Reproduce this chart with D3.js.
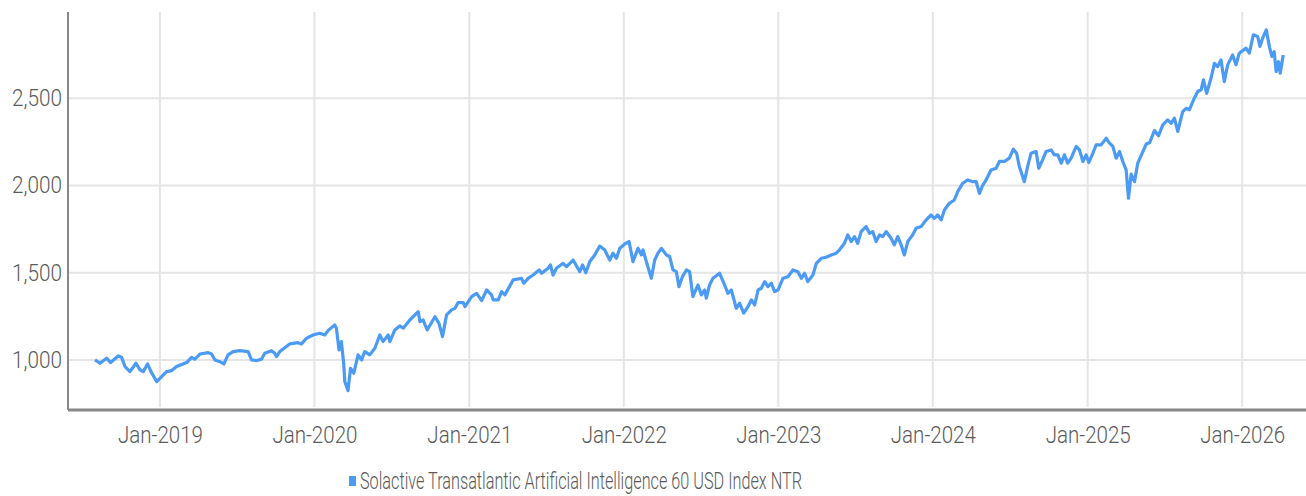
<!DOCTYPE html>
<html>
<head>
<meta charset="utf-8">
<script src="https://cdn.jsdelivr.net/npm/d3@7"></script>
<style>
  body { margin: 0; background: #fff; }
  svg text { font-family: "Roboto", "Liberation Sans", sans-serif; font-weight: 300; fill: #5a5a5a; }
</style>
</head>
<body>
<svg id="chart" width="1306" height="496"></svg>
<script>
// series name
const seriesName = "Solactive Transatlantic Artificial Intelligence 60 USD Index NTR";

// dates as fractional years
const dates = [
  2018.580, 2018.612, 2018.655, 2018.681, 2018.730, 2018.752, 2018.774, 2018.806, 2018.845, 2018.871,
  2018.892, 2018.920, 2018.942, 2018.979, 2019.000, 2019.043, 2019.076, 2019.108, 2019.173, 2019.205,
  2019.226, 2019.259, 2019.312, 2019.334, 2019.356, 2019.388, 2019.414, 2019.441, 2019.474, 2019.517,
  2019.571, 2019.593, 2019.625, 2019.657, 2019.679, 2019.722, 2019.743, 2019.754, 2019.776, 2019.840,
  2019.894, 2019.916, 2019.948, 2019.991, 2020.034, 2020.067, 2020.088, 2020.131, 2020.142, 2020.159,
  2020.174, 2020.189, 2020.196, 2020.217, 2020.233, 2020.254, 2020.282, 2020.304, 2020.325, 2020.357,
  2020.390, 2020.422, 2020.443, 2020.476, 2020.487, 2020.519, 2020.551, 2020.573, 2020.616, 2020.670,
  2020.681, 2020.702, 2020.728, 2020.778, 2020.804, 2020.827, 2020.853, 2020.886, 2020.907, 2020.928,
  2020.961, 2020.972, 2021.015, 2021.047, 2021.080, 2021.112, 2021.144, 2021.155, 2021.187, 2021.209,
  2021.230, 2021.284, 2021.338, 2021.353, 2021.381, 2021.413, 2021.452, 2021.468, 2021.510, 2021.525,
  2021.542, 2021.564, 2021.607, 2021.629, 2021.672, 2021.715, 2021.733, 2021.754, 2021.780, 2021.812,
  2021.844, 2021.877, 2021.898, 2021.909, 2021.930, 2021.952, 2021.974, 2022.006, 2022.034, 2022.059,
  2022.092, 2022.114, 2022.124, 2022.146, 2022.178, 2022.200, 2022.221, 2022.243, 2022.276, 2022.297,
  2022.318, 2022.340, 2022.357, 2022.379, 2022.405, 2022.426, 2022.447, 2022.480, 2022.502, 2022.523,
  2022.534, 2022.555, 2022.577, 2022.620, 2022.652, 2022.674, 2022.696, 2022.728, 2022.750, 2022.776,
  2022.804, 2022.826, 2022.847, 2022.869, 2022.890, 2022.912, 2022.933, 2022.955, 2022.976, 2022.998,
  2023.030, 2023.062, 2023.095, 2023.127, 2023.149, 2023.170, 2023.191, 2023.224, 2023.246, 2023.278,
  2023.310, 2023.342, 2023.375, 2023.396, 2023.428, 2023.450, 2023.472, 2023.493, 2023.514, 2023.536,
  2023.568, 2023.590, 2023.611, 2023.633, 2023.655, 2023.676, 2023.698, 2023.730, 2023.751, 2023.773,
  2023.795, 2023.816, 2023.838, 2023.870, 2023.892, 2023.925, 2023.957, 2023.989, 2024.010, 2024.032,
  2024.054, 2024.075, 2024.107, 2024.139, 2024.161, 2024.193, 2024.226, 2024.258, 2024.280, 2024.301,
  2024.323, 2024.344, 2024.376, 2024.409, 2024.430, 2024.462, 2024.494, 2024.520, 2024.541, 2024.559,
  2024.591, 2024.612, 2024.634, 2024.667, 2024.684, 2024.709, 2024.731, 2024.764, 2024.785, 2024.807,
  2024.829, 2024.850, 2024.871, 2024.893, 2024.926, 2024.947, 2024.969, 2024.990, 2025.007, 2025.033,
  2025.055, 2025.087, 2025.120, 2025.141, 2025.163, 2025.184, 2025.206, 2025.227, 2025.249, 2025.264,
  2025.281, 2025.303, 2025.324, 2025.357, 2025.379, 2025.400, 2025.432, 2025.458, 2025.486, 2025.518,
  2025.540, 2025.561, 2025.583, 2025.615, 2025.637, 2025.658, 2025.690, 2025.712, 2025.734, 2025.749,
  2025.770, 2025.798, 2025.820, 2025.841, 2025.863, 2025.884, 2025.906, 2025.938, 2025.960, 2025.981,
  2026.025, 2026.046, 2026.072, 2026.100, 2026.115, 2026.132, 2026.156, 2026.178, 2026.192, 2026.207,
  2026.220, 2026.235, 2026.246, 2026.264, 2026.273
];

// index level
const values = [
  1000, 981, 1010, 985, 1023, 1015, 962, 933, 981, 943,
  933, 977, 933, 876, 895, 933, 939, 962, 985, 1015,
  1004, 1034, 1042, 1034, 1000, 990, 977, 1029, 1048, 1053,
  1048, 1000, 996, 1004, 1038, 1053, 1038, 1019, 1048, 1092,
  1099, 1092, 1124, 1143, 1153, 1143, 1168, 1201, 1182, 1057,
  1105, 981, 876, 824, 952, 924, 1029, 1000, 1048, 1029,
  1067, 1143, 1105, 1143, 1105, 1172, 1195, 1182, 1229, 1277,
  1220, 1229, 1172, 1248, 1210, 1134, 1258, 1287, 1296, 1329,
  1329, 1306, 1363, 1382, 1340, 1401, 1373, 1344, 1344, 1392,
  1373, 1459, 1468, 1440, 1468, 1487, 1516, 1497, 1526, 1545,
  1487, 1526, 1554, 1535, 1573, 1506, 1545, 1500, 1564, 1602,
  1653, 1630, 1592, 1573, 1612, 1583, 1640, 1665, 1679, 1564,
  1640, 1602, 1631, 1564, 1468, 1573, 1612, 1640, 1602, 1593,
  1516, 1506, 1420, 1477, 1516, 1506, 1363, 1430, 1373, 1401,
  1354, 1430, 1468, 1497, 1430, 1382, 1401, 1296, 1325, 1268,
  1306, 1344, 1315, 1401, 1411, 1449, 1420, 1440, 1392, 1401,
  1468, 1477, 1516, 1506, 1468, 1497, 1449, 1487, 1554, 1583,
  1589, 1602, 1612, 1631, 1669, 1717, 1679, 1707, 1669, 1736,
  1765, 1726, 1736, 1679, 1717, 1707, 1736, 1698, 1660, 1707,
  1660, 1602, 1679, 1717, 1755, 1765, 1803, 1831, 1812, 1831,
  1803, 1860, 1898, 1917, 1965, 2013, 2032, 2022, 2022, 1955,
  2003, 2032, 2089, 2099, 2138, 2138, 2157, 2208, 2185, 2108,
  2022, 2108, 2185, 2195, 2099, 2147, 2195, 2204, 2176, 2176,
  2128, 2176, 2128, 2157, 2224, 2204, 2138, 2176, 2132, 2185,
  2233, 2233, 2271, 2243, 2224, 2157, 2195, 2138, 2089, 1927,
  2065, 2022, 2128, 2195, 2238, 2245, 2315, 2285, 2348, 2376,
  2357, 2386, 2310, 2424, 2443, 2434, 2501, 2539, 2549, 2606,
  2529, 2615, 2701, 2682, 2720, 2596, 2692, 2749, 2692, 2759,
  2788, 2759, 2864, 2855, 2798, 2845, 2892, 2788, 2740, 2768,
  2653, 2710, 2644, 2740, 2736
];

// axis extents and ticks
const xDomainYears = [2018.405, 2026.413];
const xTickYears = [2019, 2020, 2021, 2022, 2023, 2024, 2025, 2026];
const yDomain = [713, 2995];
const yTicks = [1000, 1500, 2000, 2500];

function yearToDate(t) {
  const yr = Math.floor(t);
  const a = Date.UTC(yr, 0, 1), b = Date.UTC(yr + 1, 0, 1);
  return new Date(a + (t - yr) * (b - a));
}

const data = dates.map((t, i) => ({ date: yearToDate(t), value: values[i] }));

const svg = d3.select("#chart");
const W = +svg.attr("width");
const mLeft = 68, mTop = 12, mBottom = 410, mRight = W;

const x = d3.scaleUtc().domain(xDomainYears.map(yearToDate)).range([mLeft, mRight]);
const y = d3.scaleLinear().domain(yDomain).range([mBottom, mTop]);

// grid
const grid = svg.append("g");
grid.selectAll(".hg").data(yTicks).join("line")
  .attr("x1", mLeft).attr("x2", mRight)
  .attr("y1", d => y(d)).attr("y2", d => y(d))
  .attr("stroke", "#e5e5e5").attr("stroke-width", 2);
grid.selectAll(".vg").data(xTickYears).join("line")
  .attr("x1", d => x(yearToDate(d))).attr("x2", d => x(yearToDate(d)))
  .attr("y1", mTop).attr("y2", mBottom - 3)
  .attr("stroke", "#e5e5e5").attr("stroke-width", 2);

// line
const line = d3.line().x(d => x(d.date)).y(d => y(d.value));
svg.append("path").datum(data)
  .attr("fill", "none")
  .attr("stroke", "#4b9af4")
  .attr("stroke-width", 3.2)
  .attr("stroke-linejoin", "round")
  .attr("d", line);

// axes (condensed look: squeeze text to the widths seen in the picture)
const yAxis = svg.append("g")
  .attr("transform", "translate(" + mLeft + ",0)")
  .call(d3.axisLeft(y).tickValues(yTicks).tickFormat(d3.format(",")).tickSize(0).tickPadding(6));
yAxis.select(".domain").attr("stroke", "#888").attr("stroke-width", 2)
  .attr("d", "M0," + mTop + "V" + mBottom);
yAxis.selectAll("text").attr("font-size", 23).attr("fill", "#5a5a5a")
  .attr("textLength", 50).attr("lengthAdjust", "spacingAndGlyphs");

const xAxis = svg.append("g")
  .attr("transform", "translate(0," + mBottom + ")")
  .call(d3.axisBottom(x).tickValues(xTickYears.map(yearToDate)).tickFormat(d3.utcFormat("%b-%Y")).tickSize(0).tickPadding(17));
xAxis.select(".domain").attr("stroke", "#888").attr("stroke-width", 3)
  .attr("d", "M" + mLeft + ",0H" + mRight);
xAxis.selectAll("text").attr("font-size", 23).attr("fill", "#5a5a5a")
  .attr("textLength", 85).attr("lengthAdjust", "spacingAndGlyphs");

// legend
const legend = svg.append("g").attr("transform", "translate(349,481)");
legend.append("rect").attr("x", 0).attr("y", -5).attr("width", 7).attr("height", 10).attr("fill", "#4b9af4");
legend.append("text").attr("x", 11).attr("y", 0).attr("dy", "0.35em")
  .attr("font-size", 23).attr("textLength", 442).attr("lengthAdjust", "spacingAndGlyphs")
  .text(seriesName);
</script>
</body>
</html>
